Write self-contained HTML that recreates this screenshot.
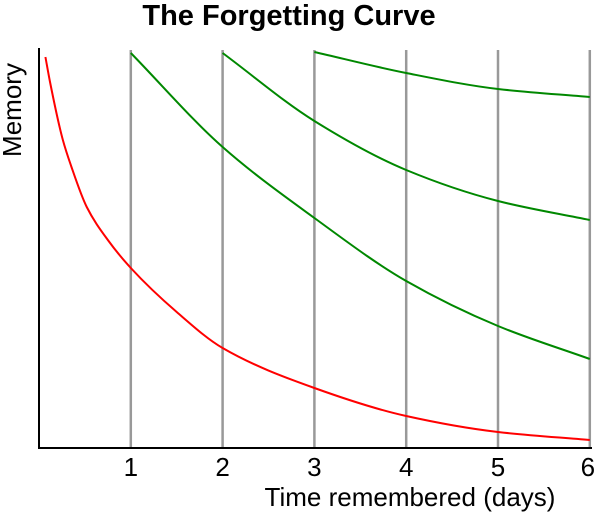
<!DOCTYPE html>
<html><head><meta charset="utf-8"><style>
html,body{margin:0;padding:0;background:#fff;}
svg{display:block;font-family:"Liberation Sans",Arial,sans-serif;}
</style></head><body>
<svg id="chart" width="600" height="513" viewBox="0 0 600 513">
<text x="289" y="25" text-anchor="middle" font-size="29" font-weight="bold">The Forgetting Curve</text>
<text transform="translate(21,110) rotate(-90)" text-anchor="middle" font-size="26">Memory</text>
<text x="410" y="506" text-anchor="middle" font-size="26">Time remembered (days)</text>
<g id="grid"></g><g id="curves"></g><g id="ticks"></g>
<line x1="39" y1="48" x2="39" y2="449" stroke="#000" stroke-width="2"/>
<line x1="38" y1="448" x2="592" y2="448" stroke="#000" stroke-width="2"/>
</svg>
<script>
const tickDays=[1,2,3,4,5,6];
const redDays=[0.07,0.12,0.26,0.35,0.52,0.75,1,1.5,2,3,4,5,6];
const redMemory=[97.75,91.5,77,70.5,60.25,52,45,34,25,15,8,4,2];
const review1Days=[1,2,3,4,5,6];
const review1Memory=[98.75,75.25,57.5,41.75,30.5,22.25];
const review2Days=[2,3,4,5,6];
const review2Memory=[98.75,81.75,69.5,61.75,57];
const review3Days=[3,4,5,6];
const review3Memory=[99,93.75,89.75,87.75];
const NS="http://www.w3.org/2000/svg";
function xS(d){return 39+d*91.8;}
function yS(v){return 448-v*4;}
function mk(tag,attrs,parent){const e=document.createElementNS(NS,tag);for(const k in attrs)e.setAttribute(k,attrs[k]);parent.appendChild(e);return e;}
const grid=document.getElementById('grid'),ticks=document.getElementById('ticks'),curves=document.getElementById('curves');
tickDays.forEach(d=>{
  const l=mk('line',{x1:xS(d),x2:xS(d),y1:50,y2:448,stroke:'#999','stroke-width':2.5},grid);
  
  
  const t=mk('text',{x:xS(d)-(d==6?2:0),y:476,'text-anchor':'middle','font-size':26},ticks);
  t.textContent=d;
  
  
});
// monotone cubic (Fritsch-Carlson) path
function path(xs,ys){
  const p=xs.map((d,i)=>[xS(d),yS(ys[i])]);
  const n=p.length,dx=[],m=[],t=[];
  for(let i=0;i<n-1;i++){dx[i]=p[i+1][0]-p[i][0];m[i]=(p[i+1][1]-p[i][1])/dx[i];}
  t[0]=m[0];t[n-1]=m[n-2];
  for(let i=1;i<n-1;i++){
    if(m[i-1]*m[i]<=0)t[i]=0;
    else{const w1=2*dx[i]+dx[i-1],w2=dx[i]+2*dx[i-1];t[i]=(w1+w2)/(w1/m[i-1]+w2/m[i]);}
  }
  let s='M'+p[0][0]+','+p[0][1];
  for(let i=0;i<n-1;i++){
    const h=dx[i]/3;
    s+=' C'+(p[i][0]+h)+','+(p[i][1]+t[i]*h)+' '+(p[i+1][0]-h)+','+(p[i+1][1]-t[i+1]*h)+' '+p[i+1][0]+','+p[i+1][1];
  }
  return s;
}
const series=[[redDays,redMemory,'#f00','forgetting-curve-red'],[review1Days,review1Memory,'#080','review-curve-day-1'],[review2Days,review2Memory,'#080','review-curve-day-2'],[review3Days,review3Memory,'#080','review-curve-day-3']];
series.forEach(s=>{
  const e=mk('path',{d:path(s[0],s[1]),fill:'none',stroke:s[2],'stroke-width':2},curves);
  
  
});
</script>
</body></html>
